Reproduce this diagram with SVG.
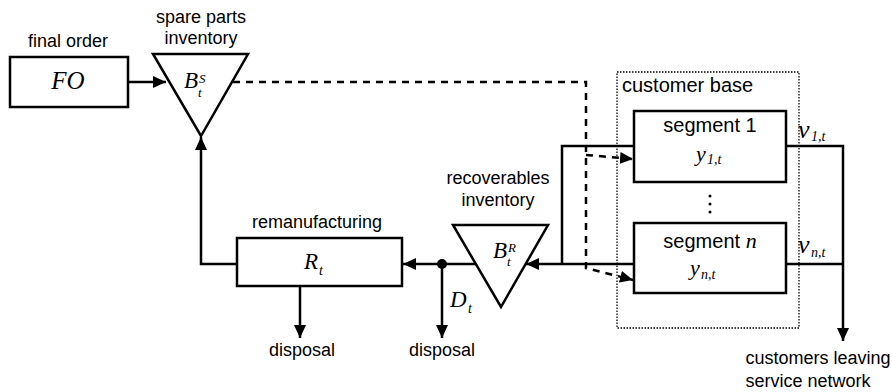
<svg xmlns="http://www.w3.org/2000/svg" width="892" height="392" viewBox="0 0 892 392">
<style>
.box{fill:#fff;stroke:#000;stroke-width:2.5}
.ln{fill:none;stroke:#000;stroke-width:2.5}
.dash{fill:none;stroke:#000;stroke-width:2.5;stroke-dasharray:7 6}
.dot{fill:none;stroke:#000;stroke-width:1.3;stroke-dasharray:1.5 1.5}
.s{font-family:"Liberation Sans",Arial,sans-serif;font-size:18px;fill:#000}
.sl{font-family:"Liberation Sans",Arial,sans-serif;font-size:20px;fill:#000}
.m{font-family:"Liberation Serif","Times New Roman",serif;font-style:italic;fill:#000}
</style>
<defs>
<marker id="ah" markerUnits="userSpaceOnUse" markerWidth="14" markerHeight="12" refX="13" refY="6" orient="auto"><path d="M0,0 L13,6 L0,12 z" fill="#000"/></marker>
</defs>
<rect width="892" height="392" fill="#fff"/>
<g id="connectors">
<path class="ln" d="M128,82 H166" marker-end="url(#ah)"/>
<path class="ln" d="M237,264 H201 V137" marker-end="url(#ah)"/>
<path class="ln" d="M476,264 H403" marker-end="url(#ah)"/>
<path class="ln" d="M442,264 V338" marker-end="url(#ah)"/>
<path class="ln" d="M300,286 V338" marker-end="url(#ah)"/>
<path class="ln" d="M634,146 H562 V264"/>
<path class="ln" d="M634,264 H526" marker-end="url(#ah)"/>
<path class="ln" d="M786,146 H843 V341" marker-end="url(#ah)"/>
<path class="ln" d="M786,264 H843"/>
<path class="dash" d="M233,82 H586 V268 L633,280" marker-end="url(#ah)"/>
<path class="dash" d="M586,155 L633,159" marker-end="url(#ah)"/>
<circle cx="442" cy="264" r="5" fill="#000"/>
</g>
<g id="final-order">
<rect class="box" x="10" y="57" width="118" height="50"/>
<text class="s" x="68" y="47" text-anchor="middle">final order</text>
<text class="m" x="68" y="89" font-size="25" text-anchor="middle">FO</text>
</g>
<g id="spare-parts-inventory">
<path class="box" d="M153,54 H248 L201,136 Z"/>
<text class="s" x="201" y="23" text-anchor="middle">spare parts</text>
<text class="s" x="201" y="44" text-anchor="middle">inventory</text>
<text class="m" x="184" y="88" font-size="23">B</text>
<text class="m" x="199" y="83" font-size="13">S</text>
<text class="m" x="198" y="97" font-size="13">t</text>
</g>
<g id="remanufacturing">
<rect class="box" x="237" y="238" width="165" height="48"/>
<text class="s" x="317" y="228" text-anchor="middle">remanufacturing</text>
<text class="m" x="304" y="269" font-size="23">R</text>
<text class="m" x="319" y="275" font-size="14">t</text>
<text class="s" x="302" y="356" text-anchor="middle">disposal</text>
</g>
<g id="recoverables-inventory">
<path class="box" d="M453,225 H548 L501,307 Z"/>
<text class="s" x="498" y="184" text-anchor="middle">recoverables</text>
<text class="s" x="498" y="206" text-anchor="middle">inventory</text>
<text class="m" x="493" y="258" font-size="23">B</text>
<text class="m" x="508" y="252" font-size="13">R</text>
<text class="m" x="507" y="266" font-size="13">t</text>
</g>
<g id="disposal-d">
<text class="m" x="450" y="307" font-size="23">D</text>
<text class="m" x="468" y="313" font-size="14">t</text>
<text class="s" x="442" y="356" text-anchor="middle">disposal</text>
</g>
<g id="customer-base">
<rect class="dot" x="617" y="72" width="182" height="256"/>
<text class="sl" x="622" y="92">customer base</text>
</g>
<g id="segment-1">
<rect class="box" x="634" y="111" width="152" height="71"/>
<text class="sl" x="710" y="132" text-anchor="middle">segment 1</text>
<text class="m" x="696" y="161" font-size="22">y</text>
<text class="m" x="707" y="164" font-size="14">1,t</text>
</g>
<g id="ellipsis">
<circle cx="710" cy="196" r="1.5" fill="#000"/>
<circle cx="710" cy="204" r="1.5" fill="#000"/>
<circle cx="710" cy="212" r="1.5" fill="#000"/>
</g>
<g id="segment-n">
<rect class="box" x="634" y="223" width="152" height="70"/>
<text x="710" y="248" text-anchor="middle"><tspan class="sl">segment </tspan><tspan class="m" font-size="22">n</tspan></text>
<text class="m" x="690" y="275" font-size="22">y</text>
<text class="m" x="701" y="279" font-size="14">n,t</text>
</g>
<g id="leaving">
<text class="m" x="798" y="138" font-size="26">v</text>
<text class="m" x="811" y="141" font-size="14">1,t</text>
<text class="m" x="798" y="253" font-size="26">v</text>
<text class="m" x="811" y="257" font-size="14">n,t</text>
<text class="s" x="818" y="364" text-anchor="middle">customers leaving</text>
<text class="s" x="808" y="387" text-anchor="middle">service network</text>
</g>
</svg>
